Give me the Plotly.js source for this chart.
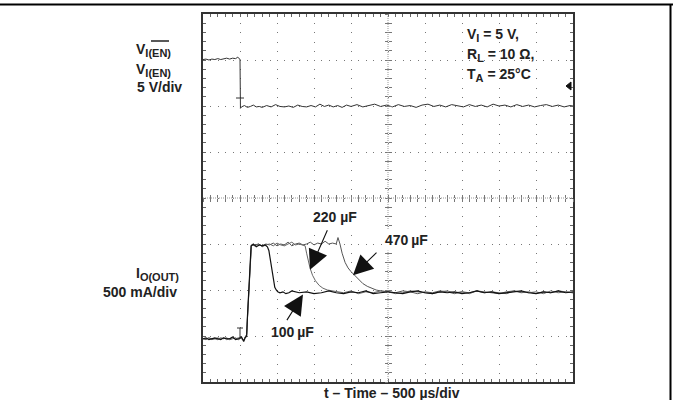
<!DOCTYPE html>
<html>
<head>
<meta charset="utf-8">
<script src="https://cdn.plot.ly/plotly-3.0.1.min.js"></script>
<style>html,body{margin:0;padding:0;background:#fff;}#chart{width:673px;height:400px;}</style>
</head>
<body>
<div id="chart"></div>
<script>
// ---- Data (time in µs, enable voltage in V, output current in A) ----
const tV = [0,40,80,120,160,200,240,280,320,360,400,440,470,490,500,506,520,560,600,640,680,720,760,800,860,920,980,1040,1100,1160,1220,1280,1340,1400,1460,1520,1580,1640,1700,1760,1820,1880,1940,2000,2080,2160,2240,2320,2400,2480,2560,2640,2720,2800,2880,2960,3040,3120,3200,3280,3360,3440,3520,3600,3680,3760,3840,3920,4000,4080,4160,4240,4320,4400,4480,4560,4640,4720,4800,4880,4960,5000];
const vEN = [5.05,5.1,5.0,5.1,5.05,5.15,5.05,5.1,5.2,5.1,5.2,5.15,5.3,5.15,5.1,-0.25,-0.1,0.05,-0.15,-0.05,0.1,-0.1,-0.05,-0.15,0.05,-0.1,0.15,-0.05,-0.1,0.0,-0.15,0.1,-0.05,-0.1,0.05,-0.1,0.2,-0.05,0.1,-0.1,0.05,-0.15,0.1,-0.05,0.15,-0.1,0.05,0.2,-0.05,0.1,-0.1,0.15,-0.05,0.05,-0.15,0.1,0.2,-0.05,0.1,-0.1,0.15,0.0,-0.1,0.15,-0.05,0.1,-0.1,0.2,0.0,0.1,-0.1,0.15,-0.05,0.1,-0.1,0.05,0.15,-0.05,0.1,-0.1,0.05,0.0];

const t100 = [0,40,80,120,160,200,240,280,320,360,400,440,480,520,550,570,590,600,620,640,650,680,720,760,800,840,870,890,910,930,950,970,990,1010,1040,1080,1120,1160,1200,1300,1400,1500,1600,1700,1800,1900,2000,2100,2200,2300,2400,2500,2600,2700,2800,2900,3000,3100,3200,3300,3400,3500,3600,3700,3800,3900,4000,4100,4200,4300,4400,4500,4600,4700,4800,4900,5000];
const i100 = [-0.03,-0.02,-0.04,-0.03,-0.02,-0.03,-0.04,-0.02,-0.03,-0.03,-0.01,-0.04,-0.03,-0.01,-0.06,-0.02,0.0,0.2,0.55,0.9,0.98,1.0,0.97,0.99,0.98,0.99,0.97,0.93,0.82,0.7,0.6,0.53,0.5,0.48,0.47,0.48,0.46,0.47,0.49,0.47,0.48,0.46,0.47,0.49,0.47,0.46,0.48,0.47,0.49,0.46,0.47,0.48,0.47,0.46,0.48,0.49,0.47,0.46,0.48,0.47,0.48,0.46,0.47,0.49,0.47,0.48,0.46,0.47,0.48,0.49,0.47,0.46,0.48,0.47,0.49,0.47,0.48];

const t220 = [0,40,80,120,160,200,240,280,320,360,400,440,480,520,550,570,590,605,625,645,655,700,750,800,850,900,950,1000,1050,1100,1150,1200,1250,1300,1340,1380,1400,1420,1446,1480,1520,1570,1620,1680,1750,1800,1900,2000,2100,2200,2300,2400,2500,2600,2700,2800,2900,3000,3100,3200,3300,3400,3500,3600,3700,3800,3900,4000,4100,4200,4300,4400,4500,4600,4700,4800,4900,5000];
const i220 = [-0.03,-0.03,-0.02,-0.04,-0.03,-0.02,-0.03,-0.02,-0.04,-0.03,-0.02,-0.03,-0.02,-0.03,-0.05,-0.01,0.02,0.25,0.6,0.92,0.99,0.98,1.0,0.97,0.99,1.0,0.98,1.01,0.99,0.98,1.0,1.02,0.99,1.0,0.99,0.98,0.9,0.82,0.74,0.66,0.6,0.55,0.52,0.5,0.49,0.48,0.47,0.49,0.46,0.48,0.47,0.49,0.48,0.46,0.47,0.49,0.48,0.47,0.46,0.48,0.49,0.47,0.48,0.46,0.49,0.47,0.48,0.47,0.46,0.49,0.48,0.47,0.48,0.46,0.49,0.47,0.48,0.47];

const t470 = [0,40,80,120,160,200,240,280,320,360,400,440,480,520,550,570,590,602,622,642,652,700,750,800,850,900,950,1000,1050,1100,1150,1200,1250,1300,1350,1400,1450,1500,1550,1600,1650,1700,1750,1800,1824,1851,1880,1920,1960,2000,2040,2100,2160,2220,2280,2340,2400,2480,2600,2700,2800,2900,3000,3100,3200,3300,3400,3500,3600,3700,3800,3900,4000,4100,4200,4300,4400,4500,4600,4700,4800,4900,5000];
const i470 = [-0.03,-0.04,-0.02,-0.03,-0.03,-0.04,-0.02,-0.03,-0.02,-0.04,-0.03,-0.02,-0.04,-0.02,-0.04,-0.02,0.01,0.22,0.58,0.91,0.98,0.99,1.0,0.98,1.0,0.99,1.01,0.98,1.0,0.99,1.02,0.98,1.0,1.01,0.99,1.0,1.02,0.99,1.01,1.0,1.03,1.0,1.01,1.0,1.07,1.0,0.9,0.8,0.74,0.7,0.67,0.62,0.57,0.54,0.52,0.5,0.49,0.48,0.47,0.49,0.48,0.46,0.48,0.47,0.49,0.48,0.46,0.48,0.47,0.49,0.48,0.47,0.46,0.48,0.49,0.47,0.48,0.46,0.48,0.47,0.49,0.48,0.47];

const capLabels = ['220 µF', '470\u2009µF', '100\u2009µF'];
const condMain = ['V', 'R', 'T'];
const condSub = ['I', 'L', 'A'];
const condRest = [' = 5 V,', ' = 10 Ω,', ' = 25°C'];

// ---- Layout helpers (pixel → paper) ----
const L = 203, R = 573, T = 14, B = 382;
const px = x => (x - L) / (R - L);
const py = y => (B - y) / (B - T);
const FONT = 'Liberation Sans, Arial, Helvetica, sans-serif';
const sub = s => '<sub><span style="font-size:11px">' + s + '</span></sub>';

const traceLine = (color, w) => ({color: color, width: w});
const data = [
  {x: tV, y: vEN, type: 'scatter', mode: 'lines', yaxis: 'y2', line: traceLine('#333', 1), hoverinfo: 'skip'},
  {x: t470, y: i470, type: 'scatter', mode: 'lines', line: traceLine('#555', 1), hoverinfo: 'skip'},
  {x: t220, y: i220, type: 'scatter', mode: 'lines', line: traceLine('#666', 1), hoverinfo: 'skip'},
  {x: t100, y: i100, type: 'scatter', mode: 'lines', line: traceLine('#111', 1.2), hoverinfo: 'skip'},
  {x: [], y: [], xaxis: 'x3', yaxis: 'y', type: 'scatter', hoverinfo: 'skip'},
  {x: [], y: [], xaxis: 'x4', yaxis: 'y', type: 'scatter', hoverinfo: 'skip'},
  {x: [], y: [], xaxis: 'x', yaxis: 'y3', type: 'scatter', hoverinfo: 'skip'},
  {x: [], y: [], xaxis: 'x', yaxis: 'y4', type: 'scatter', hoverinfo: 'skip'}
];

const frameAxis = {
  showline: true, linewidth: 2, linecolor: '#333', mirror: 'ticks',
  ticks: 'inside', ticklen: 3, tickcolor: '#666', tickwidth: 1,
  showticklabels: false, zeroline: false, showgrid: true,
  gridcolor: '#777', gridwidth: 1, fixedrange: true
};
const centerX = (dir) => ({overlaying: 'x', anchor: 'free', position: 0.5, range: [0, 5000], dtick: 100, tick0: 0,
  ticks: dir, ticklen: 3, tickcolor: '#777', showticklabels: false, showgrid: false, zeroline: false, showline: false});
const centerY = (dir) => ({overlaying: 'y', anchor: 'free', position: 0.5, range: [-0.5, 3.5], dtick: 0.1, tick0: 0,
  ticks: dir, ticklen: 3, tickcolor: '#777', showticklabels: false, showgrid: false, zeroline: false, showline: false});

const labelFont = {family: FONT, size: 14, color: '#222'};
const ann = (x, y, text, xanchor) => ({xref: 'paper', yref: 'paper', x: px(x), y: py(y), text: '<b>' + text + '</b>',
  showarrow: false, xanchor: xanchor, yanchor: 'middle', font: labelFont});
const arrow = (x, y, ax, ay) => ({xref: 'x', yref: 'y', x: x, y: y, ax: ax, ay: ay, text: '', showarrow: true,
  arrowhead: 2, arrowsize: 3.6, arrowwidth: 1.1, arrowcolor: '#111', standoff: 0});

const annotations = [
  ann(134, 50, 'V' + sub('I(EN)'), 'left'),
  ann(134, 70, 'V' + sub('I(EN)'), 'left'),
  ann(135, 87, '5 V/div', 'left'),
  ann(134, 274, 'I' + sub('O(OUT)'), 'left'),
  ann(179, 292, '500 mA/div', 'right'),
  ann(465, 35, condMain[0] + sub(condSub[0]) + condRest[0], 'left'),
  ann(465, 55, condMain[1] + sub(condSub[1]) + condRest[1], 'left'),
  ann(465, 75, condMain[2] + sub(condSub[2]) + condRest[2], 'left'),
  ann(392, 393, 't – Time – 500 µs/div', 'center'),
  Object.assign(ann(335, 217, capLabels[0], 'center'), {bgcolor: '#fff', borderpad: 2}),
  Object.assign(ann(406, 240, capLabels[1], 'center'), {bgcolor: '#fff', borderpad: 2}),
  Object.assign(ann(292, 332, capLabels[2], 'center'), {bgcolor: '#fff', borderpad: 2}),
  arrow(1446, 0.72, 18, -41),
  arrow(2027, 0.66, 25, -24),
  arrow(1351, 0.45, -17, 27)
];

const seg = (x0, y0, x1, y1, color, w, dash) => ({type: 'line', xref: 'paper', yref: 'paper',
  x0: px(x0), y0: py(y0), x1: px(x1), y1: py(y1), line: {color: color, width: w, dash: dash || 'solid'}});

const shapes = [
  seg(L, 198, R, 198, '#999', 1, '1px,1px'),
  seg(388, T, 388, B, '#999', 1, '1px,1px'),
  seg(236, 98, 244, 98, '#333', 1),
  seg(240, 328, 240, 338, '#333', 1),
  seg(237, 328, 243, 328, '#333', 1),
  {type: 'path', xref: 'paper', yref: 'paper', fillcolor: '#111', line: {color: '#111', width: 1},
   path: 'M ' + px(566) + ' ' + py(86) + ' L ' + px(571) + ' ' + py(82) + ' L ' + px(571) + ' ' + py(90) + ' Z'},
  // overline on the first (EN) subscript
  seg(151, 41, 169, 41, '#222', 1.5),
  seg(0, 4.5, 673, 4.5, '#000', 2),
  seg(670.5, 4.5, 670.5, 400, '#000', 2)
];

const layout = {
  width: 673, height: 400,
  margin: {l: L, r: 673 - R, t: T, b: 400 - B, pad: 0},
  paper_bgcolor: '#fff', plot_bgcolor: '#fff', showlegend: false,
  xaxis: Object.assign({}, frameAxis, {range: [0, 5000], dtick: 500, tick0: 0, griddash: '1px,8.2px',
    minor: {dtick: 100, ticks: 'inside', ticklen: 3, tickcolor: '#666'}}),
  yaxis: Object.assign({}, frameAxis, {range: [-0.5, 3.5], dtick: 0.5, tick0: 0, griddash: '1px,6.4px',
    minor: {dtick: 0.1, ticks: 'inside', ticklen: 3, tickcolor: '#666'}}),
  yaxis2: {overlaying: 'y', range: [-30, 10], showgrid: false, showticklabels: false, ticks: '', showline: false, zeroline: false, fixedrange: true},
  xaxis3: centerX('inside'), xaxis4: centerX('outside'),
  yaxis3: centerY('inside'), yaxis4: centerY('outside'),
  annotations: annotations, shapes: shapes
};

Plotly.newPlot('chart', data, layout, {staticPlot: true, displayModeBar: false});
</script>
</body>
</html>
